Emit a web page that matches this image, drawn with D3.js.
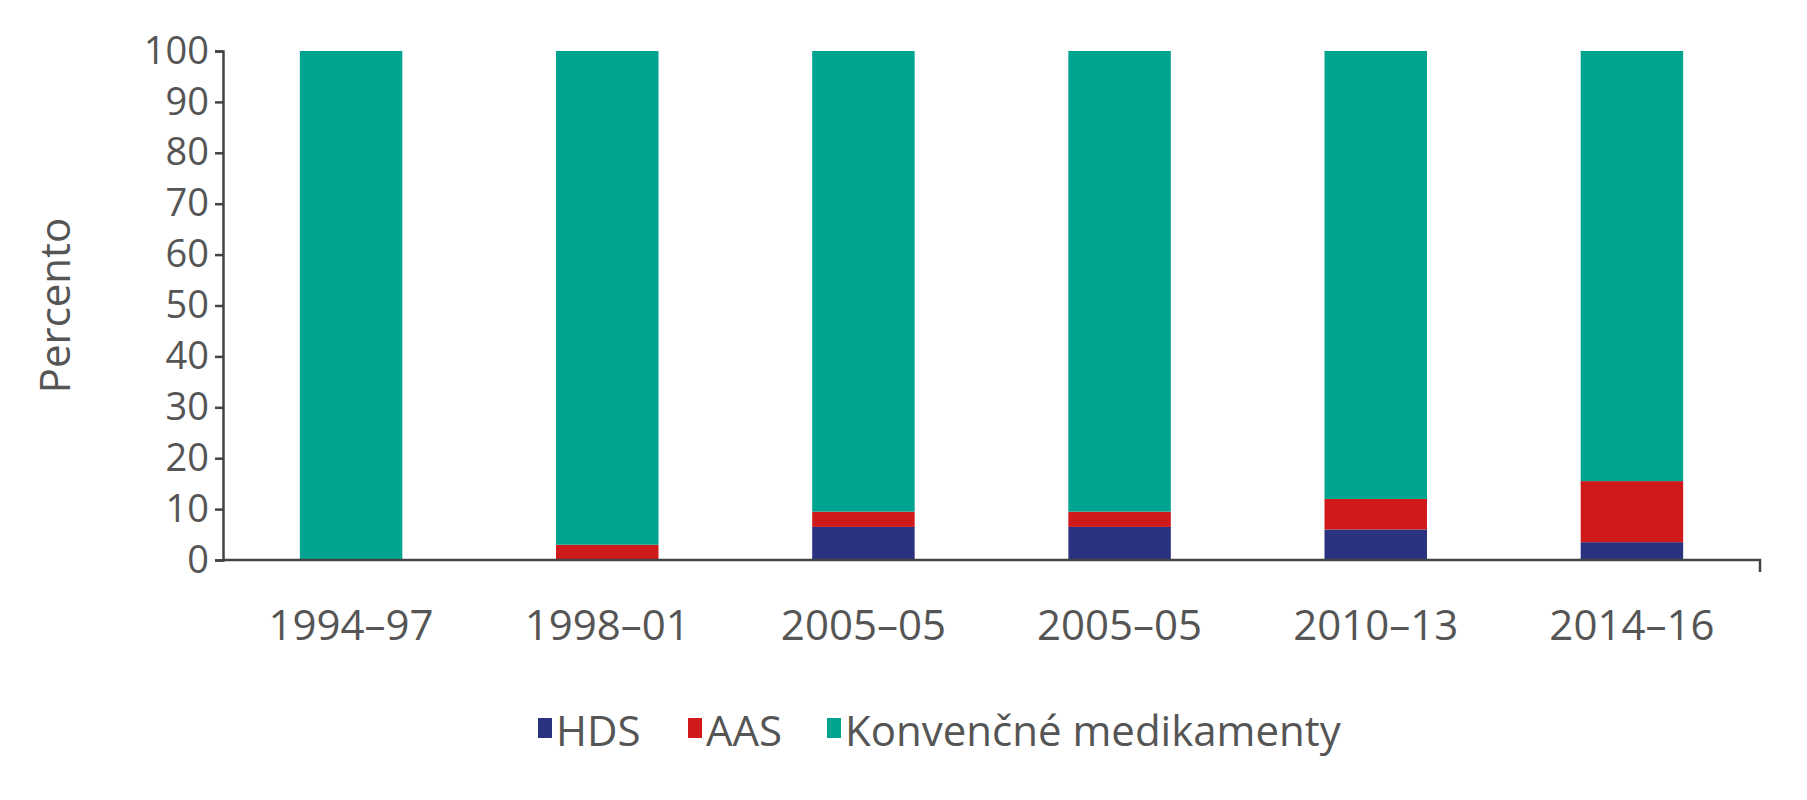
<!DOCTYPE html><html><head><meta charset="utf-8"><script src="https://cdn.jsdelivr.net/npm/d3@7"></script>
<style>body{margin:0;background:#fff}text{font-family:"Open Sans",sans-serif;fill:#555}</style></head><body>
<svg id="c" width="1807" height="800"></svg>
<script>
const categories=["1994–97","1998–01","2005–05","2005–05","2010–13","2014–16"];
const hds=[0,0,6.5,6.5,6,3.5];
const aas=[0,3,3,3,6,12];
const konv=categories.map((c,i)=>100-hds[i]-aas[i]);
const seriesNames=["HDS","AAS","Konvenčné medikamenty"];
const colors=["#2b3380","#d0191b","#00a490"];
const yTicks=[0,10,20,30,40,50,60,70,80,90,100];

const svg=d3.select("#c");
const L=223,R=1760,T=51,B=560;
const x=d3.scaleBand().domain(d3.range(categories.length)).range([L,R]).paddingInner(0.6).paddingOuter(0.3);
const y=d3.scaleLinear().domain([0,100]).range([B,T]);
const data=categories.map((c,i)=>({i,HDS:hds[i],AAS:aas[i],"Konvenčné medikamenty":konv[i]}));
const stack=d3.stack().keys(seriesNames)(data);
svg.selectAll("g.s").data(stack).join("g").attr("fill",(d,k)=>colors[k])
 .selectAll("rect").data(d=>d).join("rect")
 .attr("x",d=>x(d.data.i)).attr("width",x.bandwidth())
 .attr("y",d=>y(d[1])).attr("height",d=>y(d[0])-y(d[1]));
const ya=svg.append("g").attr("transform",`translate(${L},0)`).call(d3.axisLeft(y).tickValues(yTicks).tickSize(8).tickPadding(6));
ya.selectAll("text").style("font-size","38px");
ya.select(".domain").attr("stroke","#444").attr("stroke-width",2.5);
ya.selectAll(".tick line").attr("stroke","#444").attr("stroke-width",2.5);
const xa=svg.append("g").attr("transform",`translate(0,${B})`).call(d3.axisBottom(x).tickFormat(i=>categories[i]).tickSize(0).tickPadding(50));
xa.selectAll("text").style("font-size","42px");
xa.select(".domain").attr("stroke","#444").attr("stroke-width",2.5).attr("d",`M${L},0H${R}V12`);
svg.append("text").attr("transform",`translate(70,${(T+B)/2}) rotate(-90)`).attr("text-anchor","middle").style("font-size","42px").text("Percento");
const lg=svg.append("g").attr("transform","translate(0,732)");
let lx=[538,688,827];
seriesNames.forEach((n,k)=>{
 lg.append("rect").attr("x",lx[k]).attr("y",-14).attr("width",14).attr("height",20).attr("fill",colors[k]);
 lg.append("text").attr("x",lx[k]+18).attr("y",14).style("font-size","42px").text(n);
});
</script></body></html>
